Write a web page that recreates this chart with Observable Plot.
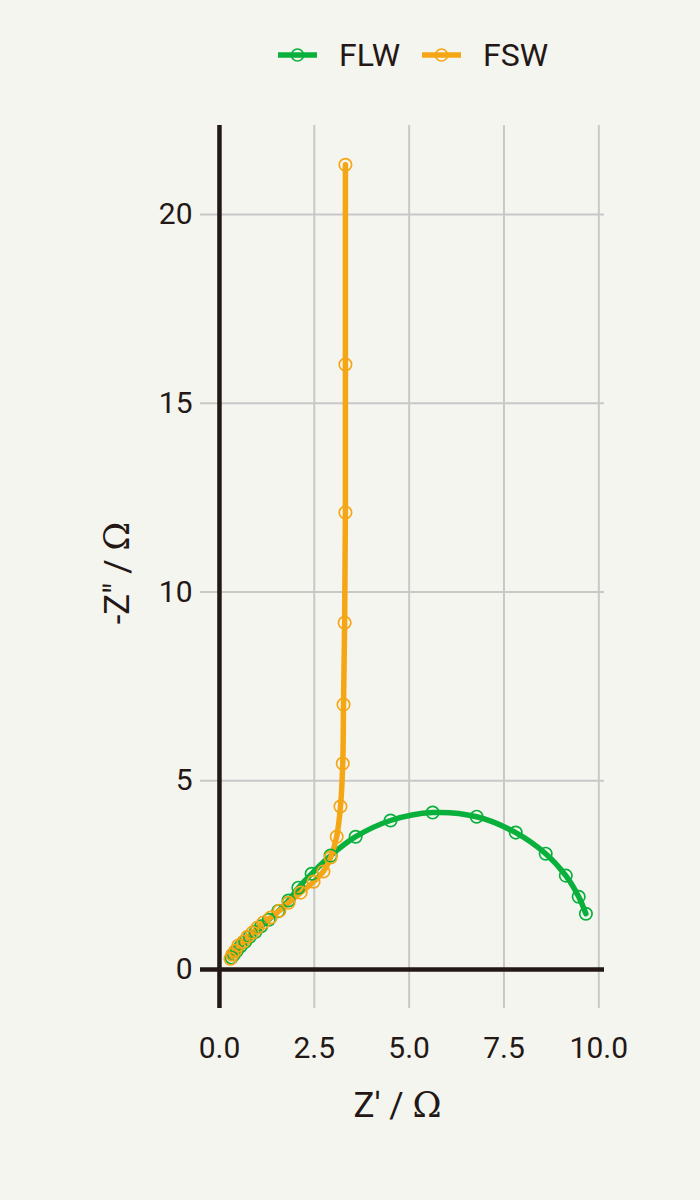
<!DOCTYPE html>
<html>
<head>
<meta charset="utf-8">
<script src="https://cdn.jsdelivr.net/npm/d3@7"></script>
<script src="https://cdn.jsdelivr.net/npm/@observablehq/plot@0.6"></script>
<style>
  html, body { margin: 0; padding: 0; background: #f5f5f0; }
  body { width: 700px; height: 1200px; overflow: hidden; font-family: Roboto, sans-serif; color: #231815; }
  #legend { height: 110px; display: flex; align-items: center; justify-content: flex-start; padding-left: 278px; box-sizing: border-box; }
  .item { display: flex; align-items: center; font-size: 32px; margin-right: 22px; }
  .item svg { margin-right: 22px; }
</style>
</head>
<body>
<div id="legend"></div>
<div id="chart"></div>
<script>
// Data (Z' in ohm, -Z'' in ohm)
const seriesNames = ["FLW", "FSW"];
const seriesColors = ["#0ab03c", "#f4a614"];
const flwRe = [0.32, 0.38, 0.46, 0.56, 0.68, 0.80, 0.95, 1.10, 1.30, 1.55, 1.82, 2.08, 2.43, 2.93, 3.59, 4.51, 5.62, 6.78, 7.81, 8.60, 9.13, 9.47, 9.66];
const flwIm = [0.32, 0.40, 0.50, 0.62, 0.74, 0.87, 1.00, 1.15, 1.32, 1.55, 1.83, 2.17, 2.54, 3.02, 3.52, 3.95, 4.16, 4.05, 3.63, 3.07, 2.49, 1.93, 1.48];
const fswRe = [0.29, 0.34, 0.42, 0.50, 0.63, 0.74, 0.87, 1.00, 1.16, 1.35, 1.58, 1.82, 2.14, 2.48, 2.74, 2.93, 3.09, 3.19, 3.25, 3.27, 3.30, 3.32, 3.32, 3.32];
const fswIm = [0.29, 0.40, 0.50, 0.64, 0.74, 0.87, 0.98, 1.11, 1.25, 1.38, 1.56, 1.77, 2.04, 2.33, 2.60, 2.97, 3.52, 4.32, 5.46, 7.02, 9.19, 12.11, 16.03, 21.32];
const xTicks = [0, 2.5, 5, 7.5, 10];
const yTicks = [0, 5, 10, 15, 20];
const xLabel = ["Z' / Ω"];
const yLabel = ["-Z\" / Ω"];

const data = [
  ...flwRe.map((x, i) => ({series: "FLW", re: x, im: flwIm[i]})),
  ...fswRe.map((x, i) => ({series: "FSW", re: x, im: fswIm[i]}))
];
const ink = "#231815";

const chart = Plot.plot({
  width: 700,
  height: 1090,
  marginTop: 15,
  marginBottom: 192,
  marginLeft: 200,
  marginRight: 96,
  style: {background: "transparent", fontFamily: "Roboto, sans-serif", color: ink},
  x: {domain: [-0.5, 10.15]},
  y: {domain: [-1.03, 22.36]},
  color: {domain: seriesNames, range: seriesColors},
  marks: [
    Plot.gridX(xTicks.filter(d => d !== 0), {stroke: "#c8c8c8", strokeOpacity: 1, strokeWidth: 2}),
    Plot.gridY(yTicks.filter(d => d !== 0), {stroke: "#c8c8c8", strokeOpacity: 1, strokeWidth: 2}),
    Plot.ruleX([0], {stroke: ink, strokeWidth: 4.5}),
    Plot.ruleY([0], {stroke: ink, strokeWidth: 4.5}),
    Plot.axisX(xTicks, {tickSize: 0, tickPadding: 28, fontSize: 30, tickFormat: d3.format(".1f"), label: null, fill: ink}),
    Plot.axisY(yTicks, {tickSize: 0, tickPadding: 8, fontSize: 30, label: null, fill: ink}),
    Plot.line(data, {x: "re", y: "im", z: "series", stroke: "series", strokeWidth: 5.5, curve: "catmull-rom"}),
    Plot.dot(data, {x: "re", y: "im", stroke: "series", r: 6.2, strokeWidth: 1.7, fill: "none"}),
    Plot.text(xLabel, {frameAnchor: "bottom", dx: -5, dy: 97, fontSize: 35, fill: ink, textAnchor: "middle", lineAnchor: "middle"}),
    Plot.text(yLabel, {frameAnchor: "left", dx: -83, dy: 6, rotate: -90, fontSize: 35, fill: ink, textAnchor: "middle", lineAnchor: "middle"})
  ]
});
document.getElementById("chart").appendChild(chart);

// Omega in serif as in the reference
chart.querySelectorAll("text").forEach(t => {
  if (t.textContent.includes("Ω") && t.children.length === 0) {
    const s = t.textContent.split("Ω");
    t.textContent = s[0];
    const ts = document.createElementNS("http://www.w3.org/2000/svg", "tspan");
    ts.setAttribute("font-family", "'DejaVu Serif', 'Liberation Serif', serif");
    ts.textContent = "Ω";
    t.appendChild(ts);
  }
});

// Legend
const legend = document.getElementById("legend");
seriesNames.forEach((name, i) => {
  const item = document.createElement("div");
  item.className = "item";
  item.innerHTML = `<svg width="39" height="16" viewBox="0 0 39 16"><line x1="0" y1="8" x2="39" y2="8" stroke="${seriesColors[i]}" stroke-width="5.5"/><circle cx="19.5" cy="8" r="6" fill="none" stroke="${seriesColors[i]}" stroke-width="1.7"/></svg><span>${name}</span>`;
  legend.appendChild(item);
});
</script>
</body>
</html>
